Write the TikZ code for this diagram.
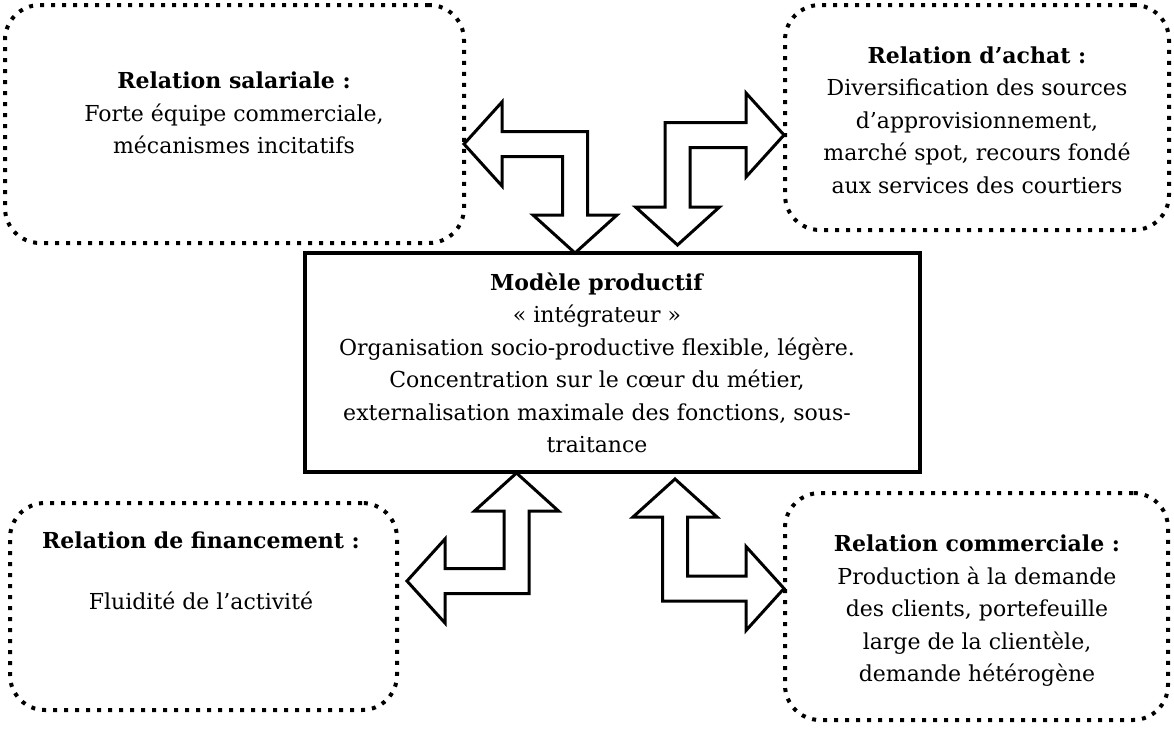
\documentclass[tikz,border=0pt]{standalone}
\usepackage{fontspec}
\setmainfont{DejaVu Serif}
\begin{document}
\begin{tikzpicture}[x=1pt,y=-1pt,
  relbox/.style={draw, line width=4pt, dash pattern=on 4pt off 7pt, rounded corners=35pt, inner sep=0pt},
  mainbox/.style={draw, line width=3.5pt, inner sep=0pt},
  txt/.style={align=center, inner sep=0pt, font=\fontsize{22}{32.5}\selectfont},
  blockarrow/.style={draw, line width=3pt, fill=white, line join=miter}]
\useasboundingbox (0,0) rectangle (1174,728);
% boxes
\node[relbox, minimum width=459pt, minimum height=238pt] (tl) at (234.5,124) {};
\node[relbox, minimum width=384pt, minimum height=225pt] (tr) at (977,117.5) {};
\node[relbox, minimum width=387pt, minimum height=207pt] (bl) at (203.5,606.5) {};
\node[relbox, minimum width=383pt, minimum height=227pt] (br) at (976.5,606.5) {};
\node[mainbox, minimum width=615pt, minimum height=219pt] (c) at (612.5,362.5) {};
% texts
\node[txt] (tltxt) at (234,113) {\textbf{Relation salariale :}\\Forte équipe commerciale,\\mécanismes incitatifs};
\node[txt] (trtxt) at (977,120) {\textbf{Relation d’achat :}\\Diversification des sources\\d’approvisionnement,\\marché spot, recours fondé\\aux services des courtiers};
\node[txt] (ctxt) at (597,363) {\textbf{Modèle productif}\\« intégrateur »\\Organisation socio-productive flexible, légère.\\Concentration sur le cœur du métier,\\externalisation maximale des fonctions, sous-\\traitance};
\node[txt] (bltxt) at (201,571) {\textbf{Relation de financement :}\\[28.5pt]Fluidité de l’activité};
\node[txt] (brtxt) at (977,611) {\textbf{Relation commerciale :}\\Production à la demande\\des clients, portefeuille\\large de la clientèle,\\demande hétérogène};
% block arrows
\draw[blockarrow] (464,144) -- (502,102) -- (502,131.5) -- (587.5,131.5) -- (587.5,215) -- (617,215) -- (575,253) -- (533,215) -- (562.5,215) -- (562.5,156.5) -- (502,156.5) -- (502,186) -- cycle;
\draw[blockarrow] (784,135) -- (746,93) -- (746,122.5) -- (665,122.5) -- (665,207) -- (635.5,207) -- (677.5,245) -- (719.5,207) -- (690,207) -- (690,147.5) -- (746,147.5) -- (746,177) -- cycle;
\draw[blockarrow] (516.5,473) -- (558.5,511) -- (529,511) -- (529,593.5) -- (445,593.5) -- (445,623) -- (407,581) -- (445,539) -- (445,568.5) -- (504,568.5) -- (504,511) -- (474.5,511) -- cycle;
\draw[blockarrow] (675,479) -- (717,517) -- (687.5,517) -- (687.5,576) -- (746,576) -- (746,546.5) -- (784,588.5) -- (746,630.5) -- (746,601) -- (662.5,601) -- (662.5,517) -- (633,517) -- cycle;
\end{tikzpicture}
\end{document}
